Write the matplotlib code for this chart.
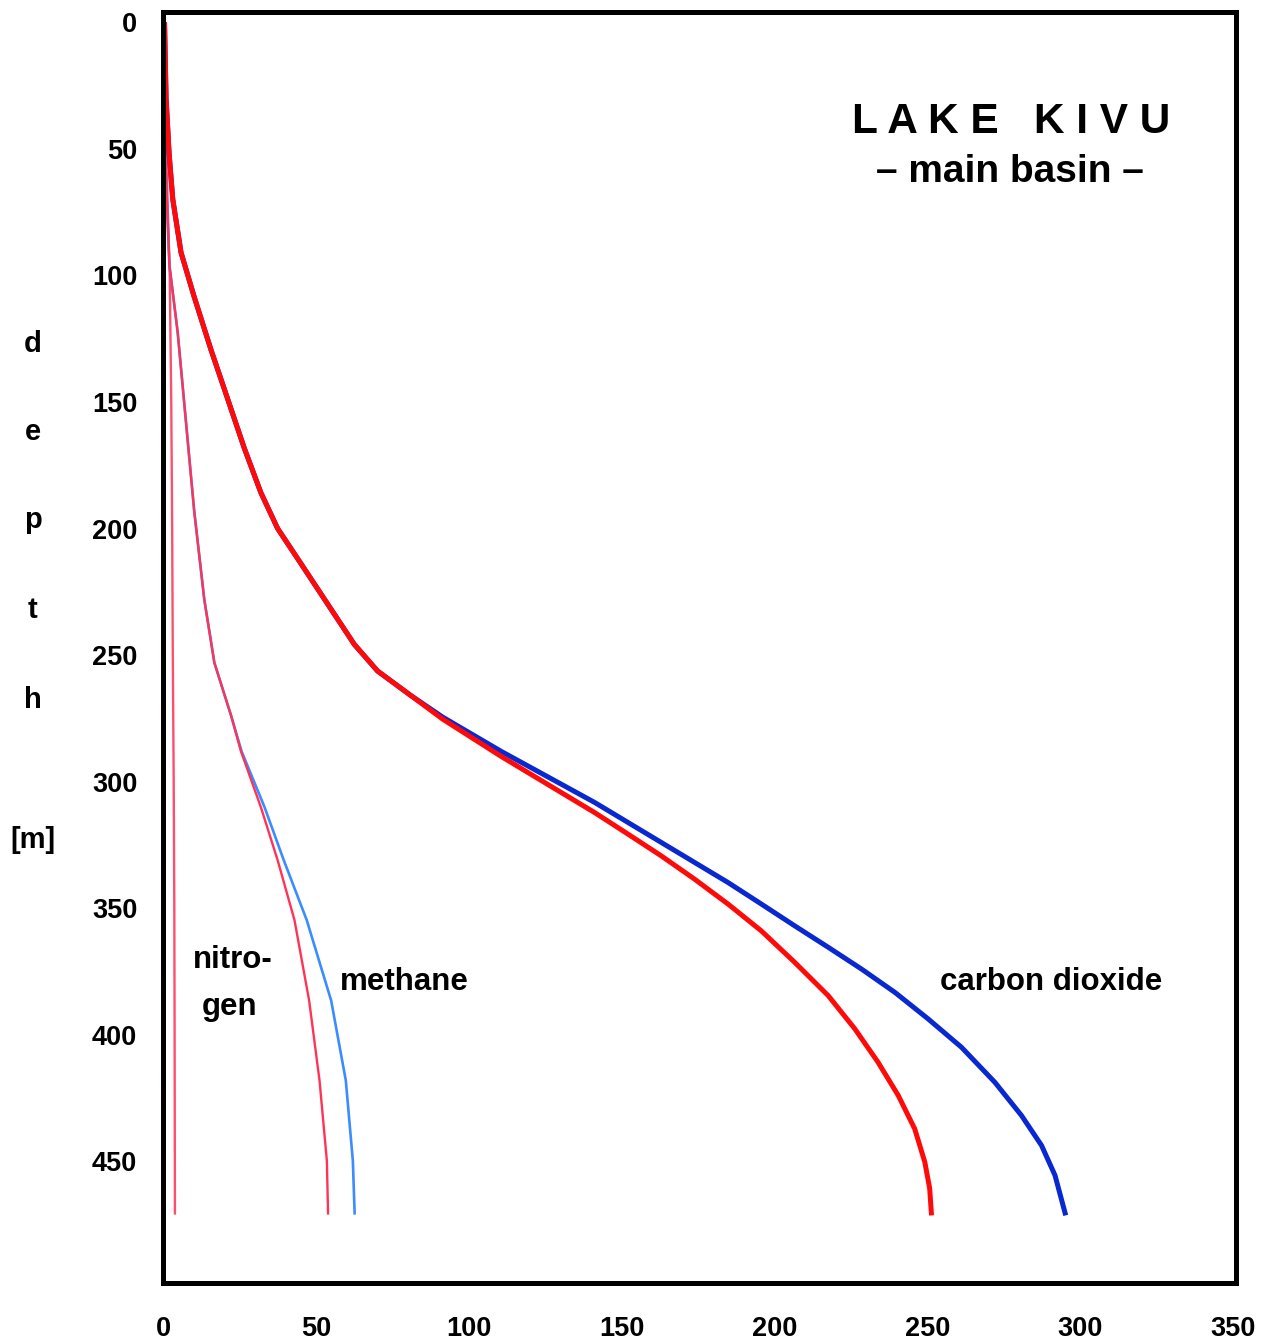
import matplotlib
matplotlib.use("Agg")
import matplotlib.pyplot as plt

plt.rcParams['font.family'] = ['Liberation Sans', 'DejaVu Sans']

# ---- data (gas concentration vs depth [m]) ----
co2_old_depth = [0, 30, 52, 70, 91, 108.5, 129.4, 149, 168.3, 185.8, 200, 214, 229.9, 245.8,
                 256.3, 265.9, 275.3, 290, 304.3, 312.2, 320.7, 329.3, 338.5, 348.3, 358.9,
                 371.3, 384.5, 397.6, 410.8, 423.9, 437.1, 450.2, 460.7, 471.3]
co2_old_conc = [0.5, 1.0, 2.0, 3.2, 5.9, 10.2, 15.7, 21.2, 26.6, 32.0, 37.5, 45.2, 53.9, 62.6,
                70.2, 81.0, 91.5, 110.6, 130.3, 141.2, 152.1, 163.0, 173.9, 184.8, 195.7,
                206.6, 217.6, 226.3, 233.9, 240.5, 245.9, 249.2, 250.8, 251.4]

co2_new_depth = [0, 30, 52, 70, 91, 108.5, 129.4, 149, 168.3, 185.8, 200, 214, 229.9, 245.8,
                 256.3, 265.9, 274.5, 288, 301, 308.2, 316.1, 324, 331.9, 339.8, 348.3,
                 356.9, 365.4, 374, 383.2, 393.7, 404.9, 418.7, 431.8, 443.7, 455.5, 471.3]
co2_new_conc = [0.5, 1.0, 2.0, 3.2, 5.9, 10.2, 15.7, 21.2, 26.6, 32.0, 37.5, 45.2, 53.9, 62.6,
                70.2, 81.0, 91.5, 110.6, 130.3, 141.2, 152.1, 163.0, 173.9, 184.8, 195.7,
                206.6, 217.6, 228.5, 239.4, 250.3, 261.2, 272.1, 280.8, 287.4, 291.8, 295.3]

ch4_old_depth = [0, 50, 96, 122.5, 157.7, 193, 228, 253, 274, 288, 310, 331, 354.6, 386.4,
                 418, 449.7, 471]
ch4_old_conc = [0.3, 0.6, 2.1, 4.8, 7.5, 10.2, 13.5, 16.8, 22.3, 25.5, 32.0, 37.5, 43.0,
                47.8, 51.2, 53.6, 54.0]

ch4_new_depth = [0, 50, 96, 122.5, 157.7, 193, 228, 253, 274, 288, 310, 331, 354.6, 386.4,
                 418, 449.7, 471]
ch4_new_conc = [0.3, 0.6, 2.1, 4.8, 7.5, 10.2, 13.5, 16.8, 22.3, 25.7, 33.2, 39.5, 47.0,
                55.0, 59.8, 62.1, 62.7]

n2_depth = [0, 50, 100, 150, 200, 250, 300, 350, 400, 471]
n2_conc = [0.4, 1.0, 2.2, 2.7, 3.0, 3.2, 3.5, 3.7, 3.8, 3.9]

x_ticks = [0, 50, 100, 150, 200, 250, 300, 350]
y_ticks = [0, 50, 100, 150, 200, 250, 300, 350, 400, 450]

W, H = 1263, 1342
fig = plt.figure(figsize=(W / 100, H / 100), dpi=100)
ax = fig.add_axes([163 / W, 1 - 1283 / H, (1236 - 163) / W, (1283 - 12) / H])

kw = dict(solid_joinstyle='round', solid_capstyle='butt')
ax.plot(n2_conc, n2_depth, color='#ff4d6d', lw=1.7, **kw)
ax.plot(ch4_new_conc, ch4_new_depth, color='#3a8cff', lw=1.9, **kw)
ax.plot(ch4_old_conc, ch4_old_depth, color='#ff3355', lw=1.7, **kw)
ax.plot(co2_new_conc, co2_new_depth, color='#0a28d0', lw=3.6, **kw)
ax.plot(co2_old_conc, co2_old_depth, color='#ff0a0a', lw=3.6, **kw)

ax.set_xlim(0, 351)
ax.set_ylim(498, -4)
ax.set_xticks(x_ticks)
ax.set_yticks(y_ticks)
ax.set_xticklabels([str(v) for v in x_ticks], fontsize=19.5, fontweight='bold')
ax.set_yticklabels([str(v) for v in y_ticks], fontsize=19.5, fontweight='bold')
ax.tick_params(axis='both', length=0)
ax.tick_params(axis='y', pad=18.5)
ax.tick_params(axis='x', pad=24)
for s in ax.spines.values():
    s.set_linewidth(3.6)
    s.set_color('black')


def ftext(x, y, s, **k):
    fig.text(x / W, 1 - y / H, s, fontweight='bold', va='baseline', **k)


ftext(1011, 133, 'L A K E   K I V U', fontsize=30.5, ha='center')
ftext(1010, 182, '– main basin –', fontsize=28, ha='center')

ftext(193, 968, 'nitro-', fontsize=22.5, ha='left')
ftext(202, 1015, 'gen', fontsize=22.5, ha='left')
ftext(340, 990, 'methane', fontsize=22.5, ha='left')
ftext(940, 990, 'carbon dioxide', fontsize=22.5, ha='left')

for letter, yb in [('d', 352), ('e', 440), ('p', 528), ('t', 618), ('h', 708), ('[m]', 848)]:
    ftext(33, yb, letter, fontsize=21, ha='center')

fig.savefig('out.png', dpi=100)
